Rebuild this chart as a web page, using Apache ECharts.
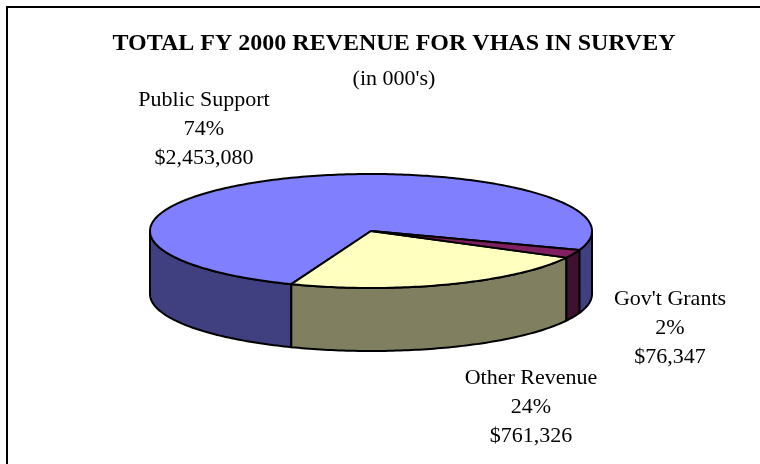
<!DOCTYPE html>
<html>
<head>
<meta charset="utf-8">
<script src="https://cdn.jsdelivr.net/npm/echarts@6/dist/echarts.min.js"></script>
<style>
html,body{margin:0;padding:0;background:#fff;}
#chart{width:760px;height:464px;}
</style>
</head>
<body>
<div id="chart"></div>
<script>
// ---- data ----
const categories = ['Public Support', 'Other Revenue', "Gov't Grants"];
const values = [2453080, 761326, 76347];
const percentLabels = ['74%', '24%', '2%'];
const titleText = 'TOTAL FY 2000 REVENUE FOR VHAS IN SURVEY';
const subtitleText = "(in 000's)";

// ---- style / layout ----
const topColors = ['#8080FF', '#FFFFC0', '#802060'];
const sideColors = ['#404080', '#808060', '#401030'];
const layout = { cx: 371, cy: 231, rx: 221, ry: 57, depth: 63, startAngle: 19.5 };
const labelAnchors = [[204, 129], [531, 407], [670, 328]];
const FONT = '"Liberation Serif", "Times New Roman", serif';

const total = values.reduce((a, b) => a + b, 0);
const cumBefore = values.map((v, i) => values.slice(0, i).reduce((a, b) => a + b, 0));

function fmtMoney(v) {
  return '$' + String(v).replace(/\B(?=(\d{3})+(?!\d))/g, ',');
}
function pt(aDeg, dy) {
  const a = aDeg * Math.PI / 180;
  return [layout.cx + layout.rx * Math.cos(a), layout.cy + layout.ry * Math.sin(a) + (dy || 0)];
}
function arc(a0, a1, dy) {
  const n = Math.max(2, Math.ceil(Math.abs(a1 - a0) / 1));
  const pts = [];
  for (let k = 0; k <= n; k++) pts.push(pt(a0 + (a1 - a0) * k / n, dy));
  return pts;
}

function renderItem(params, api) {
  const i = params.dataIndex;
  const v = api.value(0);
  const aEnd = layout.startAngle + 360 - cumBefore[i] / total * 360;
  const aStart = aEnd - v / total * 360;
  const children = [];
  // visible front sides
  [[0, 180], [360, 540], [-360, -180]].forEach(([lo, hi]) => {
    const s = Math.max(lo, aStart), e = Math.min(hi, aEnd);
    if (e > s) {
      const top = arc(s, e, 0);
      const bot = arc(e, s, layout.depth);
      children.push({
        type: 'polygon', z2: 1,
        shape: { points: top.concat(bot) },
        style: { fill: sideColors[i], stroke: '#000', lineWidth: 2, lineJoin: 'round' }
      });
    }
  });
  // top face
  children.push({
    type: 'polygon', z2: 10,
    shape: { points: [[layout.cx, layout.cy]].concat(arc(aStart, aEnd, 0)) },
    style: { fill: topColors[i], stroke: '#000', lineWidth: 2, lineJoin: 'round' }
  });
  // label
  children.push({
    type: 'text', z2: 20,
    x: labelAnchors[i][0], y: labelAnchors[i][1],
    style: {
      text: categories[i] + '\n' + percentLabels[i] + '\n' + fmtMoney(v),
      fontFamily: FONT, fontSize: 22, lineHeight: 29,
      fill: '#000', align: 'center', verticalAlign: 'middle'
    }
  });
  return { type: 'group', children: children };
}

const chart = echarts.init(document.getElementById('chart'), null, { renderer: 'canvas' });
chart.setOption({
  animation: false,
  backgroundColor: '#fff',
  title: {
    text: titleText,
    subtext: subtitleText,
    left: 389, top: 27, textAlign: 'center',
    itemGap: 12,
    textStyle: { fontFamily: FONT, fontSize: 24, fontWeight: 'bold', color: '#000' },
    subtextStyle: { fontFamily: FONT, fontSize: 22, color: '#000' }
  },
  graphic: [
    { type: 'polyline', shape: { points: [[7, 464], [7, 7], [760, 7]] },
      style: { stroke: '#000', lineWidth: 2, fill: null }, silent: true }
  ],
  series: [{
    type: 'custom',
    coordinateSystem: 'none',
    data: values.map(v => [v]),
    renderItem: renderItem
  }]
});
</script>
</body>
</html>
